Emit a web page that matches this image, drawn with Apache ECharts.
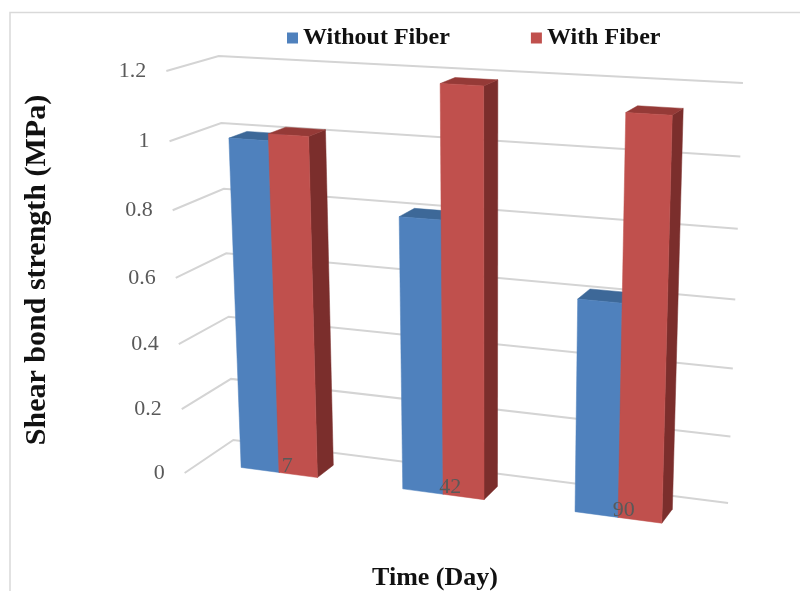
<!DOCTYPE html>
<html><head><meta charset="utf-8">
<script src="https://cdn.jsdelivr.net/npm/echarts@6/dist/echarts.min.js"></script>
<style>html,body{margin:0;padding:0;background:#fff}#c{width:800px;height:591px}</style>
</head><body><div id="c"></div>
<script>
// ---- data ----
const categories = ['7', '42', '90'];
const withoutFiber = [1.0, 0.81, 0.62];
const withFiber = [1.02, 1.19, 1.14];
const yTicks = [0, 0.2, 0.4, 0.6, 0.8, 1, 1.2];
const yTickLabels = ['0', '0.2', '0.4', '0.6', '0.8', '1', '1.2'];
const seriesNames = ['Without Fiber', 'With Fiber'];

// ---- view (3D perspective calibration of the walls) ----
const VIEW = {
  backLeftBottom: [234, 440], backLeftTop: [218, 56],
  backRightBottom: [728, 503], backRightTop: [743, 83],
  frontLeftBottom: [184, 473], frontLeftTop: [167, 71]
};
const BAR = { w: 0.24, shift: 0, z0: 0.32, z1: 0.68 };
const LABEL_Z = 0.5;
const COLORS = [
  { front: '#4F81BD', top: '#3D6898', side: '#2E5078' },
  { front: '#C0504D', top: '#953A37', side: '#7B2E2C' }
];
const FONT = '"Liberation Serif", "Times New Roman", serif';
const G = { left: 0, top: 0, width: 300, height: 300 };

function solveCamera() {
  const pts = [
    [[0, 0, 1], VIEW.backLeftBottom], [[0, 1, 1], VIEW.backLeftTop],
    [[1, 0, 1], VIEW.backRightBottom], [[1, 1, 1], VIEW.backRightTop],
    [[0, 0, 0], VIEW.frontLeftBottom], [[0, 1, 0], VIEW.frontLeftTop]
  ];
  const rows = [], rhs = [];
  pts.forEach(([w, p]) => {
    const [X, Y, Z] = w; const u = (p[0] - 400) / 400, v = (p[1] - 300) / 300;
    rows.push([X, Y, Z, 1, 0, 0, 0, 0, -u * X, -u * Y, -u * Z]); rhs.push(u);
    rows.push([0, 0, 0, 0, X, Y, Z, 1, -v * X, -v * Y, -v * Z]); rhs.push(v);
  });
  const n = 11, M = [];
  for (let i = 0; i < n; i++) M.push(new Array(n + 1).fill(0));
  rows.forEach((r, k) => {
    for (let i = 0; i < n; i++) {
      for (let j = 0; j < n; j++) M[i][j] += r[i] * r[j];
      M[i][n] += r[i] * rhs[k];
    }
  });
  for (let c = 0; c < n; c++) {
    let p = c;
    for (let r = c + 1; r < n; r++) if (Math.abs(M[r][c]) > Math.abs(M[p][c])) p = r;
    const t = M[c]; M[c] = M[p]; M[p] = t;
    for (let r = 0; r < n; r++) {
      if (r === c) continue;
      const f = M[r][c] / M[c][c];
      for (let j = c; j <= n; j++) M[r][j] -= f * M[c][j];
    }
  }
  return M.map((row, i) => row[n] / row[i]);
}
const CAM = solveCamera();
function P(X, Y, Z) {
  const c = CAM;
  const w = c[8] * X + c[9] * Y + c[10] * Z + 1;
  const u = (c[0] * X + c[1] * Y + c[2] * Z + c[3]) / w;
  const v = (c[4] * X + c[5] * Y + c[6] * Z + c[7]) / w;
  return [u * 400 + 400, v * 300 + 300];
}
function norm(pt) {
  return [(pt[0] - G.left) / G.width, (G.top + G.height - pt[1]) / G.height];
}

function barRender(sIdx) {
  return function (params, api) {
    const top = norm(api.coord([api.value(0), api.value(1)]));
    const band = api.size([1, 0])[0] / G.width;
    const xc = top[0] + BAR.shift * band;
    const x0 = sIdx === 0 ? xc - BAR.w * band : xc;
    const x1 = x0 + BAR.w * band;
    const yt = top[1], z0 = BAR.z0, z1 = BAR.z1;
    const col = COLORS[sIdx];
    const poly = (pts, fill) => ({ type: 'polygon', shape: { points: pts }, style: { fill: fill, stroke: fill, lineWidth: 0.5 } });
    return {
      type: 'group',
      children: [
        poly([P(x1, 0, z0), P(x1, 0, z1), P(x1, yt, z1), P(x1, yt, z0)], col.side),
        poly([P(x0, yt, z0), P(x1, yt, z0), P(x1, yt, z1), P(x0, yt, z1)], col.top),
        poly([P(x0, 0, z0), P(x1, 0, z0), P(x1, yt, z0), P(x0, yt, z0)], col.front)
      ]
    };
  };
}

const chart = echarts.init(document.getElementById('c'), null, { renderer: 'canvas' });
chart.setOption({
  backgroundColor: '#fff',
  animation: false,
  grid: { left: G.left, top: G.top, width: G.width, height: G.height, show: false },
  xAxis: { type: 'category', data: categories, show: false },
  yAxis: { type: 'value', min: 0, max: 1.2, interval: 0.2, show: false },
  legend: {
    data: seriesNames, left: 282, top: 21, itemWidth: 11, itemHeight: 11, itemGap: 81, icon: 'rect',
    textStyle: { fontFamily: FONT, fontWeight: 'bold', fontSize: 24, color: '#111' }
  },
  graphic: [
    { type: 'rect', silent: true, shape: { x: 10, y: 12.5, width: 900, height: 700 },
      style: { fill: 'none', stroke: '#d9d9d9', lineWidth: 1.5 } },
    { type: 'text', x: 37, y: 270, rotation: Math.PI / 2,
      style: { text: 'Shear bond strength (MPa)', font: 'bold 30px ' + FONT, fill: '#111', align: 'center', verticalAlign: 'middle' } },
    { type: 'text', x: 435, y: 578,
      style: { text: 'Time (Day)', font: 'bold 26px ' + FONT, fill: '#111', align: 'center', verticalAlign: 'middle' } }
  ],
  series: [
    {
      type: 'custom', name: 'grid', coordinateSystem: 'cartesian2d', silent: true, z: 1,
      data: yTicks.map((v, i) => [0, v]),
      encode: { x: 0, y: 1 },
      renderItem: function (params, api) {
        const yn = norm(api.coord([0, api.value(1)]))[1];
        const a = P(0, yn, 0), b = P(0, yn, 1), c = P(1, yn, 1);
        return {
          type: 'group',
          children: [
            { type: 'polyline', shape: { points: [a, b, c] }, style: { stroke: '#d4d4d4', lineWidth: 2, fill: null } },
            { type: 'text', style: { text: yTickLabels[params.dataIndex], x: a[0] - 20, y: a[1], align: 'right', verticalAlign: 'middle', font: '22px ' + FONT, fill: '#595959' } }
          ]
        };
      }
    },
    {
      type: 'custom', name: seriesNames[0], coordinateSystem: 'cartesian2d', z: 2,
      itemStyle: { color: COLORS[0].front },
      data: withoutFiber.map((v, i) => [i, v]), encode: { x: 0, y: 1 },
      renderItem: barRender(0)
    },
    {
      type: 'custom', name: seriesNames[1], coordinateSystem: 'cartesian2d', z: 3,
      itemStyle: { color: COLORS[1].front },
      data: withFiber.map((v, i) => [i, v]), encode: { x: 0, y: 1 },
      renderItem: barRender(1)
    },
    {
      type: 'custom', name: 'catLabels', coordinateSystem: 'cartesian2d', silent: true, z: 4,
      data: categories.map((c, i) => [i, 0]), encode: { x: 0, y: 1 },
      renderItem: function (params, api) {
        const n = norm(api.coord([api.value(0), 0]));
        const p = P(n[0], 0, LABEL_Z);
        return { type: 'text', style: { text: categories[params.dataIndex], x: p[0], y: p[1], align: 'center', verticalAlign: 'middle', font: '22px ' + FONT, fill: '#595959' } };
      }
    }
  ]
});
</script>
</body></html>
